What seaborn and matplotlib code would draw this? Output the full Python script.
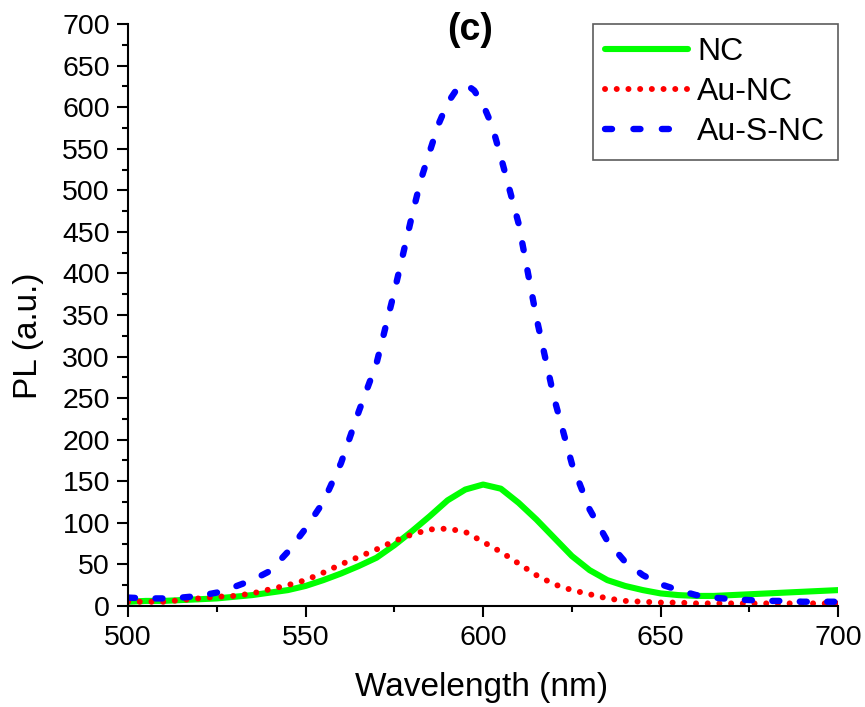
import numpy as np
import pandas as pd
import matplotlib
matplotlib.use("Agg")
import matplotlib.pyplot as plt
from matplotlib.ticker import MultipleLocator
import seaborn as sns

wavelength = list(range(500, 701, 5))

nc = [5, 6, 6, 7, 8, 9, 11, 13, 16, 19,
      24, 31, 39, 48, 58, 73, 90, 108, 127, 140,
      146, 141, 124, 104, 82, 60, 43, 31, 24, 19,
      15, 13, 12, 12, 13, 14, 15, 16, 17, 18, 19]

au_nc = [5, 5, 5, 7, 9, 11, 12, 15, 20, 25,
         31, 40, 50, 59, 68, 78, 86, 92, 93, 89,
         77, 65, 51, 37, 26, 19, 14, 9, 6, 5,
         4, 4, 3, 3, 3, 3, 3, 3, 3, 3, 3]

wavelength_s = [500, 505, 510, 515, 520, 525, 530, 535, 540, 545,
                550, 555, 560, 565, 570, 575, 580, 582.5, 585, 587.5,
                590, 592.5, 595, 597.5, 600, 602.5, 605, 607.5, 610, 615,
                620, 625, 630, 635, 640, 645, 650, 655, 660, 665,
                670, 675, 680, 685, 690, 695, 700]
au_s_nc = [10, 9, 9, 10, 12, 16, 23, 31, 42, 65,
           93, 125, 172, 234, 292, 378, 470, 513, 547, 580,
           605, 621, 628, 620, 603, 578, 540, 500, 460, 347,
           250, 171, 116, 78, 53, 37, 26, 19, 13, 10,
           8, 7, 6, 6, 5, 5, 5]

labels = ["NC", "Au-NC", "Au-S-NC"]
colors = ["#00ff00", "#ff0000", "#0000ff"]

sns.set_style("ticks")
plt.rcParams['font.family'] = ['Liberation Sans', 'DejaVu Sans']
plt.rcParams['text.color'] = 'black'
plt.rcParams['axes.labelcolor'] = 'black'
plt.rcParams['xtick.color'] = 'black'
plt.rcParams['ytick.color'] = 'black'

fig = plt.figure(figsize=(8.65, 7.07), dpi=100)
ax = fig.add_axes([0.148, 0.143, 0.969 - 0.148, 0.966 - 0.143])

df = pd.DataFrame({"Wavelength": wavelength, "NC": nc, "Au-NC": au_nc})
df_s = pd.DataFrame({"Wavelength": wavelength_s, "Au-S-NC": au_s_nc})

sns.lineplot(data=df, x="Wavelength", y="NC", ax=ax, color=colors[0], linewidth=4.4,
             label=labels[0])
line_nc = ax.lines[-1]
line_nc.set_solid_capstyle("round")
line_nc.set_solid_joinstyle("round")

sns.lineplot(data=df, x="Wavelength", y="Au-NC", ax=ax, color=colors[1], linewidth=4.3,
             label=labels[1])
line_au = ax.lines[-1]
line_au.set_linestyle((0, (0.01, 1.95)))
line_au.set_dash_capstyle("round")

sns.lineplot(data=df_s, x="Wavelength", y="Au-S-NC", ax=ax, color=colors[2], linewidth=4.6,
             label=labels[2])
line_aus = ax.lines[-1]
line_aus.set_linestyle((0, (1.1, 3.2)))
line_aus.set_dash_capstyle("round")

ax.set_xlim(500, 700)
ax.set_ylim(0, 700)
ax.xaxis.set_major_locator(MultipleLocator(50))
ax.xaxis.set_minor_locator(MultipleLocator(25))
ax.yaxis.set_major_locator(MultipleLocator(50))
ax.yaxis.set_minor_locator(MultipleLocator(25))

for s in ["top", "right"]:
    ax.spines[s].set_visible(False)
for s in ["left", "bottom"]:
    ax.spines[s].set_linewidth(1.5)
    ax.spines[s].set_color("black")

ax.tick_params(axis="both", which="major", direction="out", length=8, width=1.5,
               labelsize=20.5, colors="black")
ax.tick_params(axis="x", which="major", pad=6)
ax.tick_params(axis="y", which="major", pad=5)
ax.tick_params(axis="both", which="minor", direction="out", length=4.5, width=1.5,
               colors="black")

ax.set_xlabel("Wavelength (nm)", fontsize=24)
ax.set_ylabel("PL (a.u.)", fontsize=24)
ax.xaxis.set_label_coords(0.498, -0.113)
ax.yaxis.set_label_coords(-0.118, 0.464)

ax.text(0.481, 0.99, "(c)", transform=ax.transAxes, ha="center", va="center",
        fontsize=27, fontweight="bold")

leg = ax.legend(loc="upper right", borderaxespad=0, frameon=True, fancybox=False,
                fontsize=23, handlelength=2.6, handletextpad=0.28, labelspacing=0.32,
                borderpad=0.4)
leg.get_frame().set_edgecolor("#333333")
leg.get_frame().set_linewidth(1.2)
leg_lines = leg.get_lines()
leg_lines[2].set_linestyle((0, (1.1, 3.35)))
leg_lines[2].set_dash_capstyle("round")

fig.savefig("out.png", dpi=100)
